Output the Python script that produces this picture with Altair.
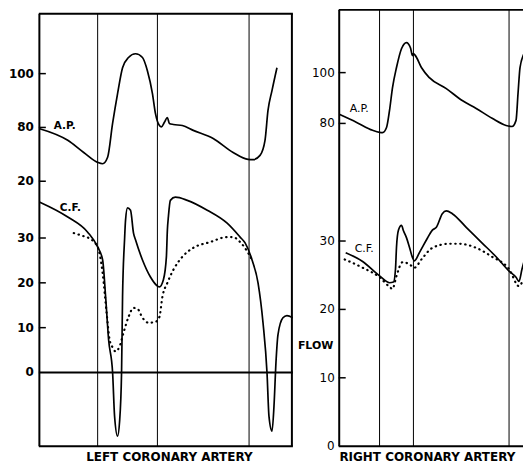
import altair as alt
import pandas as pd

# ---------------- data (time in ms, pressure mmHg, flow ml/min) ----------------
# LEFT coronary artery
L_AP_T = [0, 116, 180, 236, 256, 276, 296, 316, 336, 360, 388, 416, 436, 456, 468, 484, 492,
          504, 516, 524, 540, 576, 620, 700, 780, 840, 860, 888, 908, 920, 936, 956]
L_AP_P = [79.6, 75.2, 70.7, 67.0, 66.5, 68.9, 81.5, 92.6, 102.2, 106.0, 107.4, 106.0, 101.0, 92.6,
          85.2, 80.7, 80.2, 81.9, 83.7, 81.5, 81.1, 80.7, 78.9, 75.9, 70.7, 68.1, 68.0, 69.6, 75.2,
          86.3, 93.7, 102.2]

L_CF_T = [4, 116, 196, 236, 256, 268, 280, 296, 304, 316, 324, 332, 336, 344, 348, 356, 368, 380,
          388, 416, 448, 476, 484, 500, 512, 516, 520, 528, 548, 596, 676, 756, 808, 828, 856, 880,
          900, 916, 924, 936, 944, 952, 960, 980, 996, 1020]
L_CF_F = [38.0, 34.7, 31.3, 28.0, 25.1, 16.9, 7.3, 0.0, -9.8, -14.2, -11.0, 0.0, 16.9, 29.6, 34.0,
          36.7, 36.2, 31.1, 29.6, 25.1, 21.3, 19.3, 19.1, 20.7, 25.8, 31.8, 34.7, 38.4, 39.1, 38.4,
          36.2, 33.3, 30.2, 28.9, 25.1, 20.0, 11.1, 0.0, -9.8, -13.1, -7.6, 2.2, 8.4, 12.2, 12.7,
          12.2]

L_CFD_T = [140, 180, 200, 236, 256, 272, 284, 296, 308, 324, 340, 360, 380, 396, 416, 440, 468,
           484, 496, 516, 540, 576, 620, 688, 756, 780, 808, 840, 856]
L_CFD_F = [31.1, 30.4, 30.0, 28.0, 22.2, 13.3, 7.3, 5.6, 4.7, 5.8, 8.9, 12.4, 14.4, 14.2, 12.2,
           11.1, 11.3, 12.4, 16.9, 20.0, 22.9, 25.8, 27.8, 29.1, 30.2, 30.2, 29.1, 26.7, 25.1]

L_EVENTS = [236, 476, 844]
L_P_TICKS = [60, 80, 100]
L_P_LABELS = ["20", "80", "100"]
L_F_TICKS = [10, 20, 30]
L_F_LABELS_V = [0, 10, 20, 30]
L_F_LABELS = ["0", "10", "20", "30"]

# RIGHT coronary artery
R_AP_T = [4, 72, 136, 164, 176, 192, 204, 216, 232, 252, 272, 288, 296, 300, 308, 332, 364, 432,
          496, 552, 616, 672, 696, 712, 720, 728, 744, 764, 772]
R_AP_P = [83.5, 80.4, 77.3, 76.5, 76.4, 78.4, 85.1, 94.1, 102.0, 109.4, 111.8, 109.8, 106.7, 107.5,
          106.7, 102.0, 98.0, 93.7, 89.0, 85.9, 82.0, 79.2, 78.8, 81.2, 91.8, 102.0, 107.5, 109.8,
          110.6]

R_CF_T = [28, 96, 164, 204, 220, 228, 232, 240, 252, 260, 272, 284, 296, 304, 324, 356, 376, 392,
          416, 432, 456, 512, 576, 632, 684, 712, 724, 736, 752, 772]
R_CF_F = [28.3, 27.0, 24.9, 23.9, 24.0, 25.9, 29.1, 31.6, 32.3, 31.5, 30.5, 29.1, 27.6, 27.1, 28.3,
          30.4, 31.6, 32.0, 34.0, 34.4, 34.0, 32.0, 29.7, 27.7, 25.6, 24.7, 24.1, 25.9, 27.7, 28.0]

R_CFD_T = [24, 96, 164, 204, 216, 232, 256, 284, 304, 332, 376, 444, 484, 552, 616, 684, 724, 744,
           756]
R_CFD_F = [27.3, 26.1, 24.7, 23.3, 23.0, 24.9, 26.9, 26.6, 26.1, 27.3, 29.0, 29.6, 29.6, 29.0, 27.7,
           25.9, 23.4, 24.4, 24.6]

R_EVENTS = [164, 300, 684]
R_P_TICKS = [80, 100]
R_P_LABELS = ["80", "100"]
R_F_TICKS = [10, 20, 30]
R_F_LABELS_V = [0, 10, 20, 30]
R_F_LABELS = ["0", "10", "20", "30"]

# ---------------- layout constants ----------------
H = 438
W_L, W_R = 255, 185
L_XDOM, R_XDOM = [0, 1020], [0, 740]
L_PDOM, L_FDOM = [-38.5, 123.7], [-16.44, 80.89]
R_PDOM, R_FDOM = [-47.06, 124.7], [0.0, 63.8]
FONT = "DejaVu Sans"
TITLE_Y = 449


def X(dom):
    return alt.X("t:Q", scale=alt.Scale(domain=dom, nice=False, zero=False), axis=None)


def Y(field, dom):
    return alt.Y(f"{field}:Q", scale=alt.Scale(domain=dom, nice=False, zero=False), axis=None)


DUMMY = pd.DataFrame({"d": [0]})


def vrule(x, y1, y2, w=2):
    return alt.Chart(DUMMY).mark_rule(color="black", strokeWidth=w).encode(
        x=alt.value(x), y=alt.value(y1), y2=alt.value(y2))


def hrule(y, x1, x2, w=2):
    return alt.Chart(DUMMY).mark_rule(color="black", strokeWidth=w).encode(
        y=alt.value(y), x=alt.value(x1), x2=alt.value(x2))


def curve(ts, vs, xdom, ydom, dotted=False):
    df = pd.DataFrame({"t": ts, "v": vs})
    if dotted:
        m = alt.Chart(df).mark_line(color="black", strokeWidth=2.2, strokeDash=[0.4, 4.6],
                                    strokeCap="round", interpolate="monotone", clip=True)
    else:
        m = alt.Chart(df).mark_line(color="black", strokeWidth=1.7, interpolate="monotone",
                                    clip=True)
    return m.encode(x=X(xdom), y=Y("v", ydom), order="t:Q")


def ticks(vals, ydom):
    df = pd.DataFrame({"v": vals})
    return alt.Chart(df).mark_rule(color="black", strokeWidth=1.5).encode(
        y=Y("v", ydom), x=alt.value(0), x2=alt.value(7))


def tick_labels(vals, labels, ydom, xoff, bold, size=12):
    df = pd.DataFrame({"v": vals, "lab": labels})
    return alt.Chart(df).mark_text(align="right", baseline="middle", font=FONT, fontSize=size,
                                   fontWeight="bold" if bold else "normal", color="black").encode(
        y=Y("v", ydom), x=alt.value(xoff), text="lab:N")


def events(ts, xdom, y1, y2):
    df = pd.DataFrame({"t": ts})
    return alt.Chart(df).mark_rule(color="black", strokeWidth=1).encode(
        x=X(xdom), y=alt.value(y1), y2=alt.value(y2))


def label(txt, t, v, xdom, ydom, bold, size=10.5, align="left"):
    df = pd.DataFrame({"t": [t], "v": [v], "lab": [txt]})
    return alt.Chart(df).mark_text(align=align, baseline="middle", font=FONT, fontSize=size,
                                   fontWeight="bold" if bold else "normal", color="black").encode(
        x=X(xdom), y=Y("v", ydom), text="lab:N")


def title_text(txt, x, y):
    return alt.Chart(DUMMY).mark_text(align="center", baseline="middle", font=FONT, fontSize=12,
                                      fontWeight="bold", color="black").encode(
        x=alt.value(x), y=alt.value(y), text=alt.value(txt))


# ---------------- left panel ----------------
zero_line = alt.Chart(pd.DataFrame({"v": [0]})).mark_rule(color="black", strokeWidth=2).encode(
    y=Y("v", L_FDOM), x=alt.value(0), x2=alt.value(W_L))

left = alt.layer(
    alt.Chart(DUMMY).mark_rule(opacity=0).encode(x=alt.value(-30), y=alt.value(200), y2=alt.value(201)),
    events(L_EVENTS, L_XDOM, 4, H),
    vrule(0.5, 4, H), vrule(254, 4, H), hrule(4, 0, W_L), hrule(H, 0, W_L),
    zero_line,
    ticks(L_P_TICKS, L_PDOM), ticks(L_F_TICKS, L_FDOM),
    tick_labels(L_P_TICKS, L_P_LABELS, L_PDOM, -5, True),
    tick_labels(L_F_LABELS_V, L_F_LABELS, L_FDOM, -5, True),
    curve(L_AP_T, L_AP_P, L_XDOM, L_PDOM),
    curve(L_CF_T, L_CF_F, L_XDOM, L_FDOM),
    curve(L_CFD_T, L_CFD_F, L_XDOM, L_FDOM, dotted=True),
    label("A.P.", 60, 80.7, L_XDOM, L_PDOM, True),
    label("C.F.", 84, 36.7, L_XDOM, L_FDOM, True),
    title_text("LEFT CORONARY ARTERY", 131, TITLE_Y),
).resolve_scale(y="independent").properties(width=W_L, height=H)

# ---------------- right panel ----------------
right = alt.layer(
    events(R_EVENTS, R_XDOM, 0, H),
    vrule(0.5, 0, H), hrule(0, 0, W_R), hrule(H, 0, W_R),
    ticks(R_P_TICKS, R_PDOM), ticks(R_F_TICKS, R_FDOM),
    tick_labels(R_P_TICKS, R_P_LABELS, R_PDOM, -4, False),
    tick_labels(R_F_LABELS_V, R_F_LABELS, R_FDOM, -4, False),
    label("FLOW", 0, 14.6, R_XDOM, R_FDOM, True, size=11, align="left").encode(x=alt.value(-41)),
    curve(R_AP_T, R_AP_P, R_XDOM, R_PDOM),
    curve(R_CF_T, R_CF_F, R_XDOM, R_FDOM),
    curve(R_CFD_T, R_CFD_F, R_XDOM, R_FDOM, dotted=True),
    label("A.P.", 44, 85.5, R_XDOM, R_PDOM, False, size=11),
    label("C.F.", 64, 28.9, R_XDOM, R_FDOM, False, size=11),
    title_text("RIGHT CORONARY ARTERY", 89, TITLE_Y),
).resolve_scale(y="independent").properties(width=W_R, height=H)

chart = alt.hconcat(left, right, spacing=46, bounds="flush").properties(
    padding=0, background="white"
).configure_view(stroke=None)

chart.save("out.html", embed_options={"renderer": "svg", "actions": False})
